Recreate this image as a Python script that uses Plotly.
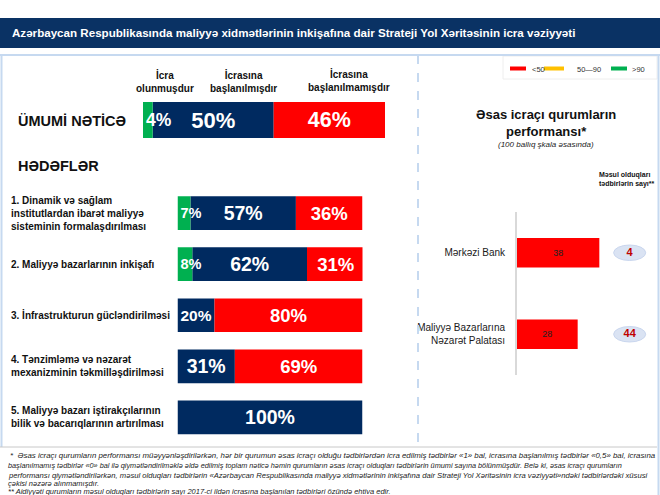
import plotly.graph_objects as go

# ---------------- data ----------------
series_names = ["İcra<br>olunmuşdur", "İcrasına<br>başlanılmışdır", "İcrasına<br>başlanılmamışdır"]
overall_label = "ÜMUMİ NƏTİCƏ"
overall_values = [4, 50, 46]

goals_title = "HƏDƏFLƏR"
goal_labels = [
    "1. Dinamik və sağlam<br>institutlardan ibarət maliyyə<br>sisteminin formalaşdırılması",
    "2. Maliyyə bazarlarının inkişafı",
    "3. İnfrastrukturun gücləndirilməsi",
    "4. Tənzimləmə və nəzarət<br>mexanizminin təkmilləşdirilməsi",
    "5. Maliyyə bazarı iştirakçılarının<br>bilik və bacarıqlarının artırılması",
]
goal_done = [7, 8, 0, 0, 0]
goal_started = [57, 62, 20, 31, 100]
goal_not_started = [36, 31, 80, 69, 0]

agencies = ["Mərkəzi Bank", "Maliyyə Bazarlarına<br>Nəzarət Palatası"]
agency_scores = [38, 28]
agency_tasks = [4, 44]

legend_labels = ["<50", "50—90", ">90"]

title = "Azərbaycan Respublikasında maliyyə xidmətlərinin inkişafına dair Strateji Yol Xəritəsinin icra vəziyyəti"
right_title = "Əsas icraçı qurumların<br>performansı*"
right_subtitle = "(100 ballıq şkala əsasında)"
tasks_title = "Məsul olduqları<br>tədbirlərin sayı**"
footnotes = [
    "*  Əsas icraçı qurumların performansı müəyyənləşdirilərkən, hər bir qurumun əsas icraçı olduğu tədbirlərdən icra edilmiş tədbirlər «1» bal, icrasına başlanılmış tədbirlər «0,5» bal, icrasına",
    "başlanılmamış tədbirlər «0» bal ilə qiymətləndirilməklə əldə edilmiş toplam nəticə həmin qurumların əsas icraçı olduqları tədbirlərin ümumi sayına bölünmüşdür. Belə ki, əsas icraçı qurumların",
    "performansı qiymətləndirilərkən, məsul olduqları tədbirlərin «Azərbaycan Respublikasında maliyyə xidmətlərinin inkişafına dair Strateji Yol Xəritəsinin icra vəziyyəti»ndəki tədbirlərdəki xüsusi",
    "çəkisi nəzərə alınmamışdır.",
    "** Aidiyyəti qurumların məsul olduqları tədbirlərin sayı 2017-ci ildən icrasına başlanılan tədbirləri özündə ehtiva edir.",
]

# ---------------- style ----------------
W, H = 660, 495
GREEN, NAVY, RED, YELLOW = "#00b050", "#002a60", "#ff0000", "#ffc000"
HEADER = "#0a3264"
PANEL = "#c6d9f0"
FONT = "Liberation Sans, Arial, sans-serif"
seg_colors = [GREEN, NAVY, RED]
legend_colors = [RED, YELLOW, GREEN]


def px(x):
    return x / W


def py(y):
    return 1 - y / H


def score_color(v):
    if v < 50:
        return RED
    if v <= 90:
        return YELLOW
    return GREEN


fig = go.Figure()

# ---- overall bar (x/y) ----
ov_base = [sum(overall_values[:j]) for j in range(3)]
ov_sizes = [17.5, 22, 21.5]
for j in [1, 2, 0]:
    fig.add_trace(go.Bar(
        orientation="h", x=[overall_values[j]], y=[overall_label], base=[ov_base[j]],
        width=1, marker=dict(color=seg_colors[j], line=dict(width=0)),
        text=[f"{overall_values[j]}%"], textposition="inside", textangle=0,
        insidetextanchor="start" if j == 0 else "middle",
        constraintext="none" if j == 0 else "inside",
        textfont=dict(family=FONT, size=ov_sizes[j], color="white", weight="bold"),
        hoverinfo="skip", showlegend=False, xaxis="x", yaxis="y",
    ))

# ---- goals (x2/y2) ----
goal_series = [goal_done, goal_started, goal_not_started]
g_sizes = [14.5, 19.5, 18.5]
for j in [1, 2, 0]:
    vals = goal_series[j]
    bases = [sum(goal_series[k][i] for k in range(j)) for i in range(len(vals))]
    fig.add_trace(go.Bar(
        orientation="h", x=vals, y=goal_labels, base=bases, width=0.66,
        marker=dict(color=seg_colors[j], line=dict(width=0)),
        text=[f"{v}%" if v else "" for v in vals], textposition="inside", textangle=0,
        insidetextanchor="start" if j == 0 else "middle",
        constraintext="none" if j == 0 else "inside",
        textfont=dict(family=FONT, size=g_sizes[j], color="white", weight="bold"),
        hoverinfo="skip", showlegend=False, xaxis="x2", yaxis="y2",
    ))

# ---- agencies (x3/y3) ----
fig.add_trace(go.Bar(
    orientation="h", x=agency_scores, y=agencies, width=0.36,
    marker=dict(color=[score_color(v) for v in agency_scores], line=dict(width=0)),
    text=[str(v) for v in agency_scores], textposition="inside", textangle=0,
    insidetextanchor="middle", constraintext="none",
    textfont=dict(family=FONT, size=9, color="#222222"),
    hoverinfo="skip", showlegend=False, xaxis="x3", yaxis="y3",
))
fig.add_trace(go.Scatter(
    x=[52] * len(agencies), y=agencies, mode="text",
    text=[f"<b>{n}</b>" for n in agency_tasks],
    textfont=dict(family=FONT, size=11, color="#c00000"),
    hoverinfo="skip", showlegend=False, xaxis="x3", yaxis="y3",
))

shapes = []
for i in range(len(agencies)):
    shapes.append(dict(type="circle", xref="x3", yref="y3", x0=44.6, x1=59.4,
                       y0=i - 0.095, y1=i + 0.095, fillcolor="#dae3f3",
                       line=dict(color="#c9d6ee", width=1), layer="below"))

# header band
shapes.append(dict(type="rect", xref="paper", yref="paper", x0=0, x1=1,
                   y0=py(48), y1=py(18), fillcolor=HEADER, line=dict(width=0), layer="below"))
# panel frame
shapes += [
    dict(type="line", xref="paper", yref="paper", x0=0, x1=1, y0=py(55), y1=py(55),
         line=dict(color=PANEL, width=2)),
    dict(type="line", xref="paper", yref="paper", x0=px(1.5), x1=px(1.5), y0=py(55), y1=py(447),
         line=dict(color=PANEL, width=2)),
    dict(type="line", xref="paper", yref="paper", x0=px(658.5), x1=px(658.5), y0=py(55), y1=0,
         line=dict(color=PANEL, width=2)),
    dict(type="line", xref="paper", yref="paper", x0=px(418), x1=px(418), y0=py(55), y1=py(447),
         line=dict(color=PANEL, width=2, dash="dash")),
    dict(type="line", xref="paper", yref="paper", x0=0, x1=px(657), y0=py(447), y1=py(447),
         line=dict(color="#c8c8c8", width=1)),
    dict(type="rect", xref="paper", yref="paper", x0=px(503), x1=px(657), y0=py(79), y1=py(56),
         line=dict(color="#eeeeee", width=1), fillcolor="white", layer="below"),
]
# legend swatches
leg_x = [(510, 526), (544, 564), (611, 627)]
leg_tx = [530, 575, 630]
for (a, b), c in zip(leg_x, legend_colors):
    shapes.append(dict(type="line", xref="paper", yref="paper", x0=px(a), x1=px(b),
                       y0=py(68.5), y1=py(68.5), line=dict(color=c, width=4)))

ann = []
ann.append(dict(text=f"<b>{title}</b>", x=px(10), y=py(33), xanchor="left", yanchor="middle",
                font=dict(family=FONT, size=11.6, color="white")))
for t, xx in zip(legend_labels, leg_tx):
    ann.append(dict(text=t, x=px(xx), y=py(69), xanchor="left", yanchor="middle",
                    font=dict(family=FONT, size=7.5, color="#333333")))
for t, xx, yy in zip(series_names, [165, 243, 349], [82, 82, 80]):
    ann.append(dict(text=f"<b>{t}</b>", x=px(xx), y=py(yy), xanchor="center", yanchor="middle",
                    font=dict(family=FONT, size=10, color="#111111")))
ann.append(dict(text=f"<b>{overall_label}</b>", x=px(16), y=py(121), xanchor="left", yanchor="middle",
                font=dict(family=FONT, size=14.5, color="#111111")))
ann.append(dict(text=f"<b>{goals_title}</b>", x=px(16), y=py(166), xanchor="left", yanchor="middle",
                font=dict(family=FONT, size=14.5, color="#111111")))
for g in goal_labels:
    ann.append(dict(text=f"<b>{g}</b>", xref="paper", yref="y2", x=px(9), y=g,
                    xanchor="left", yanchor="middle", align="left",
                    font=dict(family=FONT, size=10, color="#111111")))
ann.append(dict(text=f"<b>{right_title}</b>", x=px(546), y=py(123), xanchor="center", yanchor="middle",
                font=dict(family=FONT, size=13, color="#111111")))
ann.append(dict(text=f"<i>{right_subtitle}</i>", x=px(546), y=py(144), xanchor="center", yanchor="middle",
                font=dict(family=FONT, size=8, color="#222222")))
ann.append(dict(text=f"<b>{tasks_title}</b>", x=px(597), y=py(179), xanchor="left", yanchor="middle",
                align="left", font=dict(family=FONT, size=7, color="#111111")))
foot_sizes = [7.85, 7.3, 7.65, 7.5, 7.5]
for t, xx, yy, fs in zip(footnotes, [8, 6, 6, 6, 6], [455, 465.5, 475.5, 483.5, 491], foot_sizes):
    ann.append(dict(text=f"<i>{t}</i>", x=px(xx), y=py(yy), xanchor="left", yanchor="middle",
                    font=dict(family=FONT, size=fs, color="#222222")))
for a in ann:
    a.setdefault("xref", "paper")
    a.setdefault("yref", "paper")
    a["showarrow"] = False

hidden = dict(visible=False, fixedrange=True)
fig.update_layout(
    width=W, height=H, margin=dict(l=0, r=0, t=0, b=0),
    paper_bgcolor="white", plot_bgcolor="rgba(0,0,0,0)",
    barmode="overlay", showlegend=False,
    font=dict(family=FONT),
    xaxis=dict(domain=[px(143), px(385)], range=[0, 100], anchor="y", **hidden),
    yaxis=dict(domain=[py(138), py(102)], range=[-0.5, 0.5], anchor="x", type="category", **hidden),
    xaxis2=dict(domain=[px(177.5), px(362.5)], range=[0, 100], anchor="y2", **hidden),
    yaxis2=dict(domain=[py(443), py(187.5)], range=[4.5, -0.5], anchor="x2", type="category",
                categoryorder="array", categoryarray=goal_labels, **hidden),
    xaxis3=dict(domain=[px(517), px(647)], range=[0, 60], anchor="y3", **hidden),
    yaxis3=dict(domain=[py(375), py(212)], range=[1.5, -0.5], anchor="x3", type="category",
                categoryorder="array", categoryarray=agencies,
                showline=True, linecolor="#d9d9d9", linewidth=2, ticks="", showgrid=False,
                zeroline=False, ticklabelstandoff=8, fixedrange=True,
                tickfont=dict(family=FONT, size=10, color="#1a1a1a")),
    shapes=shapes, annotations=ann,
)

fig.write_html(
    "out.html",
    config={"displayModeBar": False},
    post_script="document.body.style.margin='0';document.body.style.overflow='hidden';",
)
